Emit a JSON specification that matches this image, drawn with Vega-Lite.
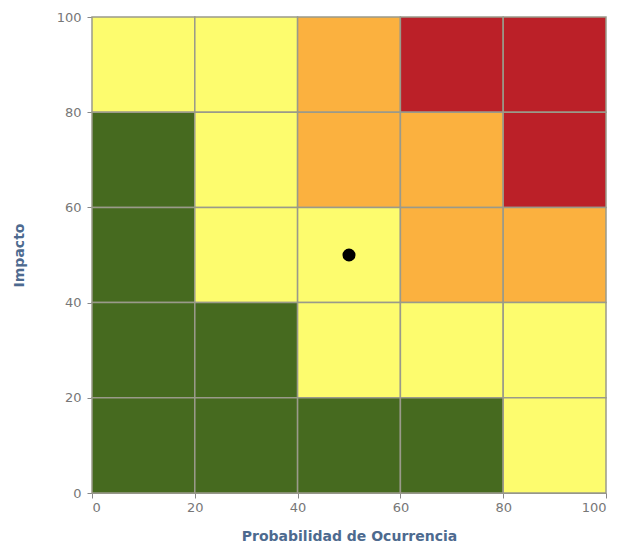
{
  "$schema": "https://vega.github.io/schema/vega-lite/v6.json",
  "width": 514,
  "height": 476,
  "autosize": {"type": "none"},
  "padding": {"left": 92, "top": 17, "right": 20, "bottom": 58},
  "background": "white",
  "config": {
    "view": {"stroke": null},
    "font": "DejaVu Sans",
    "axis": {
      "labelColor": "#777777",
      "labelFontSize": 13,
      "titleColor": "#4d6a8f",
      "titleFontSize": 14,
      "titleFontWeight": "bold",
      "grid": false,
      "domainColor": "#888888",
      "tickColor": "#888888"
    }
  },
  "datasets": {
    "cells": [
      {"x": 0, "x2": 20, "y": 80, "y2": 100, "nivel": "Medio"},
      {"x": 20, "x2": 40, "y": 80, "y2": 100, "nivel": "Medio"},
      {"x": 40, "x2": 60, "y": 80, "y2": 100, "nivel": "Alto"},
      {"x": 60, "x2": 80, "y": 80, "y2": 100, "nivel": "Extremo"},
      {"x": 80, "x2": 100, "y": 80, "y2": 100, "nivel": "Extremo"},
      {"x": 0, "x2": 20, "y": 60, "y2": 80, "nivel": "Bajo"},
      {"x": 20, "x2": 40, "y": 60, "y2": 80, "nivel": "Medio"},
      {"x": 40, "x2": 60, "y": 60, "y2": 80, "nivel": "Alto"},
      {"x": 60, "x2": 80, "y": 60, "y2": 80, "nivel": "Alto"},
      {"x": 80, "x2": 100, "y": 60, "y2": 80, "nivel": "Extremo"},
      {"x": 0, "x2": 20, "y": 40, "y2": 60, "nivel": "Bajo"},
      {"x": 20, "x2": 40, "y": 40, "y2": 60, "nivel": "Medio"},
      {"x": 40, "x2": 60, "y": 40, "y2": 60, "nivel": "Medio"},
      {"x": 60, "x2": 80, "y": 40, "y2": 60, "nivel": "Alto"},
      {"x": 80, "x2": 100, "y": 40, "y2": 60, "nivel": "Alto"},
      {"x": 0, "x2": 20, "y": 20, "y2": 40, "nivel": "Bajo"},
      {"x": 20, "x2": 40, "y": 20, "y2": 40, "nivel": "Bajo"},
      {"x": 40, "x2": 60, "y": 20, "y2": 40, "nivel": "Medio"},
      {"x": 60, "x2": 80, "y": 20, "y2": 40, "nivel": "Medio"},
      {"x": 80, "x2": 100, "y": 20, "y2": 40, "nivel": "Medio"},
      {"x": 0, "x2": 20, "y": 0, "y2": 20, "nivel": "Bajo"},
      {"x": 20, "x2": 40, "y": 0, "y2": 20, "nivel": "Bajo"},
      {"x": 40, "x2": 60, "y": 0, "y2": 20, "nivel": "Bajo"},
      {"x": 60, "x2": 80, "y": 0, "y2": 20, "nivel": "Bajo"},
      {"x": 80, "x2": 100, "y": 0, "y2": 20, "nivel": "Medio"}
    ],
    "punto": [{"prob": 50, "impacto": 50}]
  },
  "layer": [
    {
      "data": {"name": "cells"},
      "mark": {"type": "rect", "stroke": "#9a9a8a", "strokeWidth": 1.5},
      "encoding": {
        "x": {
          "field": "x", "type": "quantitative",
          "scale": {"domain": [0, 100], "nice": false},
          "axis": {"values": [0, 20, 40, 60, 80, 100], "title": "Probabilidad de Ocurrencia", "labelPadding": 3, "tickSize": 5, "titlePadding": 15}
        },
        "x2": {"field": "x2"},
        "y": {
          "field": "y", "type": "quantitative",
          "scale": {"domain": [0, 100], "nice": false},
          "axis": {"values": [0, 20, 40, 60, 80, 100], "title": "Impacto", "labelPadding": 6, "tickSize": 5, "titlePadding": 30}
        },
        "y2": {"field": "y2"},
        "color": {
          "field": "nivel", "type": "nominal",
          "scale": {
            "domain": ["Bajo", "Medio", "Alto", "Extremo"],
            "range": ["#466a1f", "#fdfc6e", "#fbb13f", "#bb2028"]
          },
          "legend": null
        }
      }
    },
    {
      "data": {"name": "punto"},
      "mark": {"type": "point", "filled": true, "color": "black", "size": 170, "opacity": 1},
      "encoding": {
        "x": {"field": "prob", "type": "quantitative"},
        "y": {"field": "impacto", "type": "quantitative"}
      }
    }
  ]
}
